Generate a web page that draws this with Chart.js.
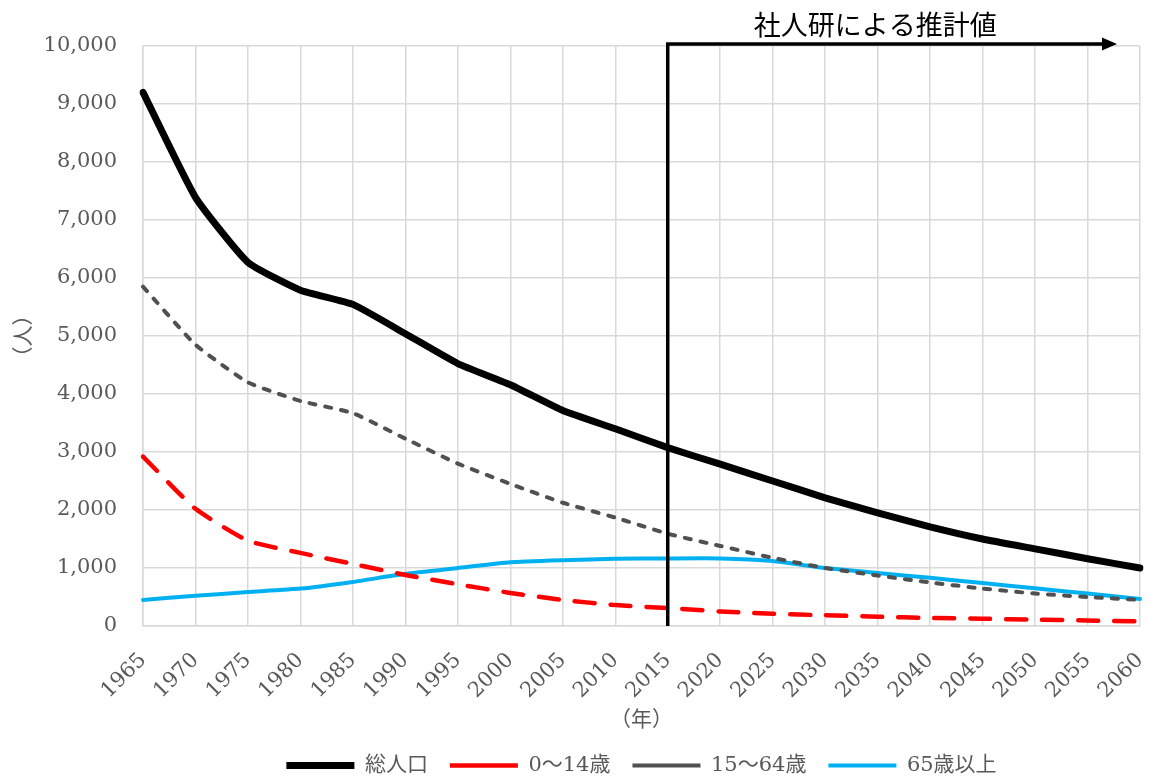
<!DOCTYPE html>
<html>
<head>
<meta charset="utf-8">
<script src="https://cdn.jsdelivr.net/npm/chart.js@4.4.1/dist/chart.umd.min.js"></script>
<style>
  html, body { margin: 0; padding: 0; background: #fff; }
  #wrap { width: 1150px; height: 778px; }
</style>
</head>
<body>
<div id="wrap"><canvas id="chart"></canvas></div>
<script>
// 年次
const years = ['1965', '1970', '1975', '1980', '1985', '1990', '1995', '2000', '2005', '2010',
               '2015', '2020', '2025', '2030', '2035', '2040', '2045', '2050', '2055', '2060'];

// 人口 (人)
const total = [9200, 7390, 6270, 5790, 5545, 5040, 4525, 4160, 3715, 3400,
               3075, 2790, 2500, 2210, 1950, 1710, 1500, 1330, 1160, 1000];
const age0to14 = [2920, 2020, 1470, 1260, 1070, 880, 720, 570, 450, 360,
                  310, 250, 210, 185, 160, 140, 125, 110, 95, 80];
const age15to64 = [5850, 4850, 4200, 3880, 3670, 3230, 2800, 2450, 2125, 1870,
                   1590, 1380, 1175, 1000, 870, 750, 645, 560, 500, 450];
const age65plus = [450, 520, 585, 645, 760, 900, 1000, 1100, 1135, 1160,
                   1165, 1165, 1120, 1000, 915, 830, 740, 650, 560, 465];

const projectionStart = '2015';
const projectionLabel = '社人研による推計値';

const serif = '"DejaVu Serif", "Noto Sans CJK JP", serif';
const grey = '#595959';

// 推計値の矢印
const projectionArrow = {
    id: 'projectionArrow',
    afterDatasetsDraw(chart) {
        const { ctx, chartArea, scales } = chart;
        const x0 = scales.x.getPixelForValue(years.indexOf(projectionStart));
        const yTop = chartArea.top - 2;
        const xEnd = chartArea.right - 23;
        ctx.save();
        ctx.strokeStyle = '#000';
        ctx.fillStyle = '#000';
        ctx.lineWidth = 3.5;
        ctx.beginPath();
        ctx.moveTo(x0, chartArea.bottom);
        ctx.lineTo(x0, yTop);
        ctx.lineTo(xEnd - 12, yTop);
        ctx.stroke();
        ctx.beginPath();
        ctx.moveTo(xEnd, yTop);
        ctx.lineTo(xEnd - 15, yTop - 6.5);
        ctx.lineTo(xEnd - 15, yTop + 6.5);
        ctx.closePath();
        ctx.fill();
        ctx.font = '27px "Noto Sans CJK JP"';
        ctx.textAlign = 'center';
        ctx.textBaseline = 'middle';
        ctx.fillText(projectionLabel, (x0 + xEnd) / 2 - 17, yTop - 19);
        ctx.restore();
    }
};

new Chart(document.getElementById('chart').getContext('2d'), {
    type: 'line',
    data: {
        labels: years,
        datasets: [
            { label: '総人口', data: total, borderColor: '#000000', borderWidth: 7,
              borderCapStyle: 'round' },
            { label: '0～14歳', data: age0to14, borderColor: '#ff0000', borderWidth: 4.5,
              borderCapStyle: 'round', borderDash: [20, 16] },
            { label: '15～64歳', data: age15to64, borderColor: '#505050', borderWidth: 4,
              borderCapStyle: 'round', borderDash: [6, 10] },
            { label: '65歳以上', data: age65plus, borderColor: '#00b0f0', borderWidth: 4,
              borderCapStyle: 'round' },
        ]
    },
    options: {
        responsive: true,
        maintainAspectRatio: false,
        animation: false,
        devicePixelRatio: 1,
        layout: { padding: { top: 46, right: 10, left: 8, bottom: -8 } },
        elements: {
            point: { radius: 0, hoverRadius: 0 },
            line: { tension: 0.15, fill: false }
        },
        scales: {
            x: {
                offset: false,
                grid: { color: '#d9d9d9', lineWidth: 1.5, drawTicks: false },
                border: { color: '#d9d9d9', width: 1.5 },
                ticks: { color: grey, font: { family: serif, size: 21 }, minRotation: 45, maxRotation: 45, padding: 22 },
                title: { display: true, text: '（年）', color: grey, font: { family: serif, size: 21 }, padding: { top: 2, bottom: 0 } },
                afterFit: scale => { scale.height = 107; scale.paddingRight = 0; scale.paddingLeft = 0; }
            },
            y: {
                min: 0, max: 10000,
                grid: { color: '#d9d9d9', lineWidth: 1.5, drawTicks: false },
                border: { color: '#d9d9d9', width: 1.5 },
                ticks: { stepSize: 1000, color: grey, font: { family: serif, size: 21 }, padding: 26,
                         callback: v => v.toLocaleString('en-US') },
                title: { display: true, text: '（人）', color: grey, font: { family: serif, size: 21 }, padding: { bottom: 0 } },
                afterFit: scale => { scale.width = 135; }
            }
        },
        plugins: {
            legend: {
                position: 'bottom',
                fullSize: false,
                labels: {
                    usePointStyle: true, pointStyle: 'line', pointStyleWidth: 68,
                    color: grey, font: { family: serif, size: 21 }, padding: 22
                }
            },
            tooltip: { enabled: false }
        }
    },
    plugins: [projectionArrow]
});
</script>
</body>
</html>
